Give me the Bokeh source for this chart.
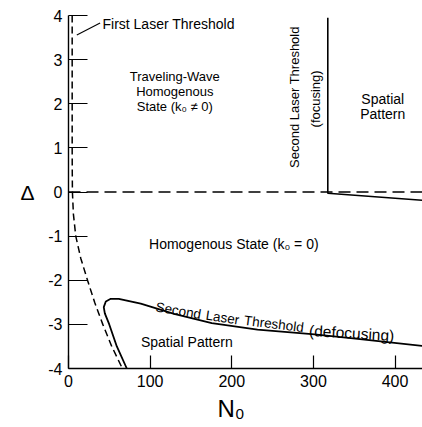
from bokeh.plotting import figure
from bokeh.models import Label, FixedTicker, Range1d, Title, LinearAxis
from bokeh.embed import file_html
from bokeh.resources import INLINE
import math

# ---- data ----
x_ticks = [0, 100, 200, 300, 400]
y_ticks = [-4, -3, -2, -1, 0, 1, 2, 3, 4]
y_tick_labels = ["-4", "-3", "-2", "-1", "0", "1", "2", "3", "4"]

# First laser threshold (dashed)
first_N0 = [4.5, 4.5, 4.5, 4.5, 4.6, 4.8, 6.0, 8.9, 15.0, 23.3, 32.0, 42.0, 53.0, 66.0]
first_D = [4.0, 3.0, 2.0, 1.0, 0.5, 0.0, -0.5, -1.0, -1.5, -2.0, -2.5, -3.0, -3.5, -4.0]
# zero-detuning line (dashed)
zero_N0 = [0, 434]
zero_D = [0, 0]
# second laser threshold (focusing)
focus_N0 = [317.6, 317.6, 434.0]
focus_D = [3.95, -0.03, -0.19]
# second laser threshold (defocusing)
defoc_N0 = [71.4, 59.2, 49.7, 44.5, 43.2, 45.7, 51.8, 61.6, 88.5, 129.3, 175.5, 231.5, 298.0, 345.7, 434.0]
defoc_D = [-4.00, -3.50, -2.99, -2.75, -2.61, -2.48, -2.42, -2.42, -2.53, -2.76, -2.97, -3.12, -3.22, -3.31, -3.49]
# leader line of the "First Laser Threshold" label
leader_N0 = [10.2, 38.7]
leader_D = [3.56, 3.83]

FONT = "Liberation Sans"

p = figure(width=422, height=427, x_range=Range1d(0, 433.6), y_range=Range1d(-4, 4),
           output_backend="svg", toolbar_location=None,
           min_border_left=68, min_border_right=0, min_border_top=15, min_border_bottom=59)
p.outline_line_color = None
p.xgrid.visible = False
p.ygrid.visible = False

for ax, ticks, tin in ((p.xaxis, x_ticks, 13), (p.yaxis, y_ticks, 19)):
    ax.ticker = FixedTicker(ticks=ticks)
    ax.major_tick_in = tin
    ax.major_tick_out = 0
    ax.minor_tick_line_color = None
    ax.axis_line_width = 1.4
    ax.axis_line_color = "black"
    ax.major_tick_line_color = "black"
    ax.major_tick_line_width = 1.2
    ax.major_label_text_font = FONT
    ax.major_label_text_font_size = "16px"
    ax.major_label_text_color = "black"
    ax.major_label_standoff = 6
p.yaxis.major_label_overrides = {t: s for t, s in zip(y_ticks, y_tick_labels)}

# y-axis title: a label-only axis with one tick at 0 labelled with Delta
delta_axis = LinearAxis(ticker=FixedTicker(ticks=[0]), major_label_overrides={0: "\u0394"},
                        axis_line_color=None, major_tick_line_color=None,
                        minor_tick_line_color=None, major_tick_in=0, major_tick_out=0,
                        major_label_text_font=FONT, major_label_text_font_size="21px",
                        major_label_text_color="black", major_label_standoff=11)
p.add_layout(delta_axis, "left")

# x-axis title
p.add_layout(Title(text="N\u2080", text_font=FONT, text_font_size="24px", text_font_style="normal",
                   text_color="black", align="left", offset=149, standoff=7), "below")

# curves
p.line(first_N0, first_D, line_color="black", line_width=1.5, line_dash="7 4")
p.line(zero_N0, zero_D, line_color="black", line_width=1.3, line_dash="12 6")
p.line(focus_N0, focus_D, line_color="black", line_width=1.6)
p.line(defoc_N0, defoc_D, line_color="black", line_width=1.8)
p.line(leader_N0, leader_D, line_color="black", line_width=1.1)

def lab(x, y, text, size="13px", align="center", baseline="middle", angle=0.0):
    p.add_layout(Label(x=x, y=y, text=text, text_font=FONT, text_font_size=size,
                       text_align=align, text_baseline=baseline, angle=angle,
                       text_color="black"))

# rotated texts first
lab(277.2, 2.15, "Second Laser Threshold", angle=math.pi / 2)
lab(302.8, 2.11, "(focusing)", angle=math.pi / 2)
lab(107.0, -2.60, "Second", size="13.5px", align="left", baseline="alphabetic", angle=math.radians(-10))
lab(168.2, -2.79, "Laser", size="13.5px", align="left", baseline="alphabetic", angle=math.radians(-8.6))
lab(215.1, -2.91, "Threshold", size="13.5px", align="left", baseline="alphabetic", angle=math.radians(-7))
lab(294.7, -3.14, "(defocusing)", size="15.5px", align="left", baseline="alphabetic", angle=math.radians(-3.3))
# horizontal texts
lab(41.6, 3.81, "First Laser Threshold", size="14px", align="left")
lab(130.2, 2.61, "Traveling-Wave")
lab(130.2, 2.27, "Homogenous")
lab(130.2, 1.93, "State (k\u2080 \u2260 0)")
lab(384.9, 2.11, "Spatial", size="14px")
lab(384.9, 1.77, "Pattern", size="14px")
lab(202.5, -1.17, "Homogenous State (k\u2080 = 0)", size="14px")
lab(144.9, -3.41, "Spatial Pattern", size="14px")

open("out.html", "w").write(file_html(p, INLINE))
